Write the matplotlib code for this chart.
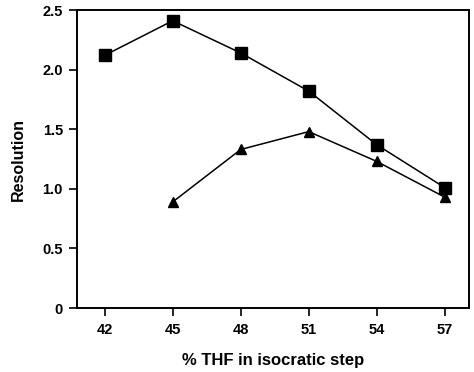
import matplotlib
matplotlib.use('Agg')
import matplotlib.pyplot as plt
from matplotlib.ticker import FuncFormatter

thf = [42, 45, 48, 51, 54, 57]
res_squares = [2.12, 2.41, 2.14, 1.82, 1.37, 1.01]
thf_tri = [45, 48, 51, 54, 57]
res_triangles = [0.89, 1.33, 1.48, 1.23, 0.93]

plt.rcParams['font.family'] = ['Liberation Sans', 'DejaVu Sans']
plt.rcParams['font.weight'] = 'bold'

fig = plt.figure(figsize=(4.74, 3.72), dpi=100)
ax = fig.add_axes([0.162, 0.172, 0.827, 0.801])

ax.plot(thf, res_squares, color='black', linewidth=1.1, marker='s', markersize=8)
ax.plot(thf_tri, res_triangles, color='black', linewidth=1.1, marker='^', markersize=7)

ax.set_xlim(40.77, 58.06)
ax.set_ylim(0, 2.5)
ax.set_xticks(thf)
ax.set_yticks([0, 0.5, 1.0, 1.5, 2.0, 2.5])
ax.yaxis.set_major_formatter(FuncFormatter(lambda v, p: '0' if v == 0 else '%.1f' % v))

ax.tick_params(axis='both', direction='out', length=6, width=1.2, labelsize=10.5)
ax.tick_params(axis='x', pad=5)
ax.tick_params(axis='y', pad=4)
for s in ax.spines.values():
    s.set_linewidth(1.4)

ax.set_xlabel('% THF in isocratic step', fontsize=12, fontweight='bold', labelpad=11)
ax.set_ylabel('Resolution', fontsize=11.5, fontweight='bold', labelpad=12)

fig.savefig('out.png', dpi=100)
